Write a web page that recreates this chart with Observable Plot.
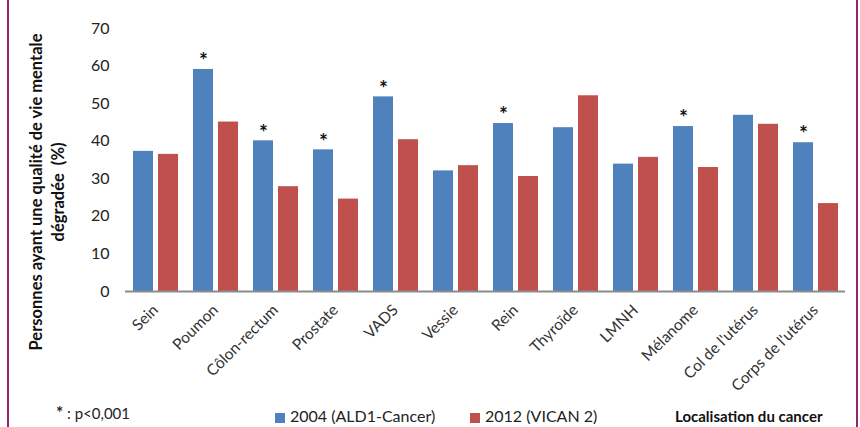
<!DOCTYPE html>
<html>
<head>
<meta charset="utf-8">
<script src="https://cdn.jsdelivr.net/npm/d3@7"></script>
<script src="https://cdn.jsdelivr.net/npm/@observablehq/plot@0.6"></script>
<style>
  html, body { margin: 0; padding: 0; background: #fff; }
  #wrap { position: relative; width: 860px; height: 427px; overflow: hidden; background: #fff; font-family: Lato, "Open Sans", sans-serif; }
  .border { position: absolute; top: 0; width: 2px; height: 427px; background: #952470; }
  .ytitle { position: absolute; width: 440px; left: -173px; top: 170px; text-align: center; transform: rotate(-90deg); font-weight: bold; font-size: 16.5px; line-height: 22px; color: #111; white-space: pre; }
  .note { position: absolute; font-size: 15px; color: #222; white-space: pre; }
  .sw { position: absolute; width: 10px; height: 10px; }
</style>
</head>
<body>
<div id="wrap"></div>
<script>
const categories = ["Sein","Poumon","Côlon-rectum","Prostate","VADS","Vessie","Rein","Thyroïde","LMNH","Mélanome","Col de l'utérus","Corps de l'utérus"];
const values2004 = [37.3,59.1,40.1,37.7,51.8,32.1,44.7,43.6,33.9,43.9,46.9,39.6];
const values2012 = [36.5,45.1,27.9,24.6,40.4,33.5,30.6,52.1,35.7,33.0,44.5,23.4];
const significant = [false,true,true,true,true,false,true,false,false,true,false,true];
const seriesNames = ["2004 (ALD1-Cancer)","2012 (VICAN 2)"];
const seriesColors = ["#4f81bd","#c0504d"];
const yTicks = [0,10,20,30,40,50,60,70];
const yTitle = ["Personnes ayant une qualité de vie mentale", "dégradée  (%)"];
const xTitle = "Localisation du cancer";
const footnote = ": p<0,001";

const rows = [];
categories.forEach((c, i) => {
  rows.push({cat: c, series: seriesNames[0], value: values2004[i], sig: significant[i]});
  rows.push({cat: c, series: seriesNames[1], value: values2012[i], sig: false});
});
const sigRows = rows.filter(d => d.sig);

const chart = Plot.plot({
  width: 860,
  height: 400,
  marginLeft: 123,
  marginRight: 13,
  marginTop: 28,
  marginBottom: 109,
  style: {fontFamily: "Lato, 'Open Sans', sans-serif", fontSize: "14px", color: "#222", background: "white"},
  fx: {domain: categories, padding: 0, axis: null, label: null},
  x: {domain: seriesNames, paddingInner: 0.2, paddingOuter: 0.3, axis: null},
  y: {domain: [0, 70], axis: null},
  color: {domain: seriesNames, range: seriesColors},
  marks: [
    Plot.barY(rows, {fx: "cat", x: "series", y: "value", fill: "series"}),
    Plot.ruleY([0], {stroke: "#8c8c8c", strokeWidth: 2}),
    Plot.text(sigRows, {fx: "cat", x: "series", y: "value", text: () => "*", dy: -8, fontWeight: "bold", fontSize: 21, fill: "#111"}),
    Plot.axisY({ticks: yTicks, tickSize: 0, tickPadding: 16, fontSize: 16, label: null, fill: "#222"}),
    Plot.axisFx({anchor: "bottom", tickRotate: -45, tickSize: 0, tickPadding: 16, fontSize: 15.5, label: null, fill: "#333"})
  ]
});

const wrap = document.getElementById("wrap");
wrap.appendChild(chart);
chart.style.position = "absolute";
chart.style.left = "0px";
chart.style.top = "0px";

function el(tag, cls, css, html) {
  const e = document.createElement(tag);
  if (cls) e.className = cls;
  Object.assign(e.style, css || {});
  if (html != null) e.innerHTML = html;
  wrap.appendChild(e);
  return e;
}
el("div", "border", {left: "7px"});
el("div", "border", {left: "856px"});
el("div", "ytitle", {}, yTitle[0] + "\n" + yTitle[1]);
el("div", "note", {left: "56px", top: "402px"}, "<b style='font-size:17px'>*</b> " + footnote);
el("div", "sw", {left: "275px", top: "413px", background: seriesColors[0]});
el("div", "note", {left: "290px", top: "406px", fontSize: "16px"}, seriesNames[0]);
el("div", "sw", {left: "470px", top: "413px", background: seriesColors[1]});
el("div", "note", {left: "485px", top: "406px", fontSize: "16px"}, seriesNames[1]);
el("div", "note", {left: "675px", top: "407px", fontWeight: "bold", fontSize: "15px", color: "#111"}, xTitle);
</script>
</body>
</html>
